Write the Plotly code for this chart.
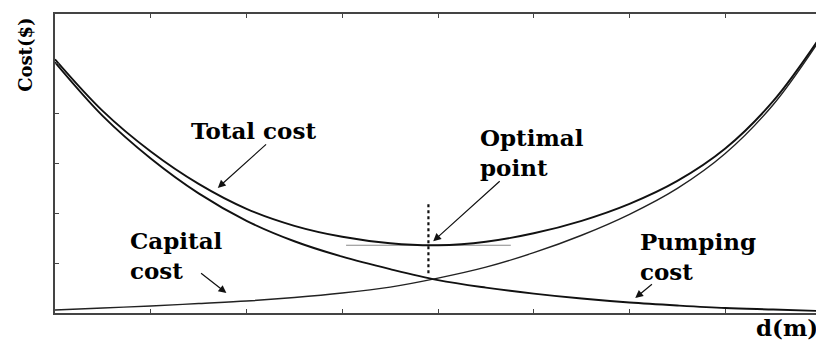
import plotly.graph_objects as go

# ---- data (x: diameter d, y: cost, arbitrary units) ----
d_values = [0, 0.5, 1, 1.5, 2, 2.5, 3, 3.5, 4, 4.5, 5, 5.5, 6, 6.5, 7, 7.5, 8]
pumping_cost = [5.03, 3.95, 3.10, 2.40, 1.85, 1.44, 1.13, 0.88, 0.66, 0.51, 0.39, 0.29, 0.21, 0.15, 0.10, 0.07, 0.04]
capital_cost = [0.06, 0.10, 0.14, 0.19, 0.24, 0.31, 0.40, 0.52, 0.70, 0.92, 1.21, 1.56, 1.98, 2.50, 3.20, 4.18, 5.52]
total_cost = [5.09, 4.05, 3.24, 2.59, 2.09, 1.75, 1.53, 1.40, 1.36, 1.43, 1.60, 1.85, 2.19, 2.65, 3.30, 4.25, 5.56]

optimal_d = [3.9, 3.9]
optimal_dotted_cost = [0.80, 2.23]
tangent_d = [3.04, 4.76]
tangent_cost = [1.36, 1.36]

x_ticks = [0, 1, 2, 3, 4, 5, 6, 7, 8]
y_ticks = [0, 1, 2, 3, 4, 5, 6]

FONT = "DejaVu Serif"

fig = go.Figure()

fig.add_trace(go.Scatter(x=tangent_d, y=tangent_cost, mode="lines",
                         line=dict(color="#888888", width=1.2), hoverinfo="skip"))
fig.add_trace(go.Scatter(x=d_values, y=capital_cost, mode="lines", line_shape="spline",
                         line=dict(color="#222222", width=1.4), name="Capital cost"))
fig.add_trace(go.Scatter(x=d_values, y=pumping_cost, mode="lines", line_shape="spline",
                         line=dict(color="#111111", width=1.9), name="Pumping cost"))
fig.add_trace(go.Scatter(x=d_values, y=total_cost, mode="lines", line_shape="spline",
                         line=dict(color="#111111", width=1.9), name="Total cost"))
fig.add_trace(go.Scatter(x=optimal_d, y=optimal_dotted_cost, mode="lines",
                         line=dict(color="#111111", width=2.2, dash="dot"), hoverinfo="skip"))

labels = [
    ("Total cost", 1.40, 3.67),
    ("Optimal<br>point", 4.42, 3.22),
    ("Capital<br>cost", 0.76, 1.15),
    ("Pumping<br>cost", 6.09, 1.14),
]
arrows = [
    (1.70, 2.51, 2.22, 3.41),
    (3.95, 1.44, 4.66, 2.67),
    (1.79, 0.40, 1.51, 0.82),
    (6.06, 0.30, 6.25, 0.60),
]

annotations = []
for text, x, y in labels:
    annotations.append(dict(text=text, x=x, y=y, xref="x", yref="y", showarrow=False,
                            xanchor="left", yanchor="middle", align="left",
                            font=dict(family=FONT, size=23, color="black", weight="bold")))
for hx, hy, tx, ty in arrows:
    annotations.append(dict(text="", x=hx, y=hy, ax=tx, ay=ty, xref="x", yref="y",
                            axref="x", ayref="y", showarrow=True, arrowhead=2,
                            arrowsize=1.3, arrowwidth=1.2, arrowcolor="#111111"))

annotations.append(dict(text="Cost($)", x=-0.038, y=0.863, xref="paper", yref="paper",
                        showarrow=False, textangle=-90, xanchor="center", yanchor="middle",
                        font=dict(family=FONT, size=18, color="black", weight="bold")))
annotations.append(dict(text="d(m)", x=0.999, y=-0.047, xref="paper", yref="paper",
                        showarrow=False, xanchor="right", yanchor="middle",
                        font=dict(family=FONT, size=23, color="black", weight="bold")))

axis_common = dict(showgrid=False, zeroline=False, showline=True, linecolor="#444444",
                   linewidth=1.5, mirror="ticks", ticks="inside", ticklen=4,
                   tickcolor="#444444", showticklabels=False)

# the page body adds an 8px margin, so the figure is sized/offset to compensate
fig.update_layout(
    width=816, height=335,
    margin=dict(l=47, r=1, t=6, b=30),
    paper_bgcolor="white", plot_bgcolor="white",
    showlegend=False,
    xaxis=dict(range=[0, 8], tickvals=x_ticks, **axis_common),
    yaxis=dict(range=[0, 6], tickvals=y_ticks, **axis_common),
    annotations=annotations,
)

fig.write_html("out.html")
